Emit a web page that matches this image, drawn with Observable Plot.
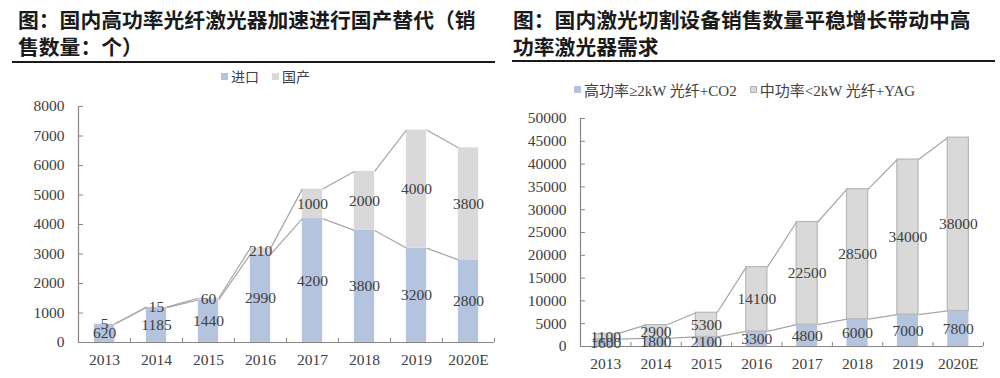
<!DOCTYPE html>
<html>
<head>
<meta charset="utf-8">
<script src="https://cdn.jsdelivr.net/npm/d3@7"></script>
<script src="https://cdn.jsdelivr.net/npm/@observablehq/plot@0.6"></script>
<style>
  html, body { margin: 0; padding: 0; background: #fff; }
  body { width: 1000px; height: 378px; position: relative; overflow: hidden;
         font-family: "Liberation Serif", "Noto Sans CJK SC", serif; color: #404040; }
  .title { position: absolute; font-family: "Noto Sans CJK SC", sans-serif; font-weight: bold;
           font-size: 20.8px; line-height: 27px; color: #1a1a1a; white-space: nowrap; }
  .rule { position: absolute; height: 2px; background: #1a1a1a; }
  .legend { position: absolute; white-space: nowrap; display: flex; align-items: center; }
  .sw { display: inline-block; width: 7px; height: 7px; margin-right: 3px; }
  .chart { position: absolute; }
  .chart svg, .chart svg text { font-family: "Liberation Serif", "Noto Sans CJK SC", serif !important; }
</style>
</head>
<body>
<div class="title" style="left:18px; top:6px;">图：国内高功率光纤激光器加速进行国产替代（销<br>售数量：个）</div>
<div class="rule" style="left:12px; top:61px; width:483px;"></div>
<div class="legend" id="legL" style="left:221px; top:66px; font-size:14px;"></div>

<div class="title" style="left:513px; top:6px;">图：国内激光切割设备销售数量平稳增长带动中高<br>功率激光器需求</div>
<div class="rule" style="left:512px; top:60px; width:483px;"></div>
<div class="legend" id="legR" style="left:574px; top:79px; font-size:15px;"></div>

<div class="chart" id="left" style="left:0px; top:90px;"></div>
<div class="chart" id="right" style="left:500px; top:100px;"></div>

<script>
// ---- data ----
const years = ["2013", "2014", "2015", "2016", "2017", "2018", "2019", "2020E"];
// left chart: 进口 (imported) and 国产 (domestic)
const importQty = [620, 1185, 1440, 2990, 4200, 3800, 3200, 2800];
const domesticQty = [5, 15, 60, 210, 1000, 2000, 4000, 3800];
const leftTicks = [0, 1000, 2000, 3000, 4000, 5000, 6000, 7000, 8000];
const leftSeries = ["进口", "国产"];
// right chart: 高功率 and 中功率
const highPower = [1600, 1800, 2100, 3300, 4800, 6000, 7000, 7800];
const midPower = [1100, 2900, 5300, 14100, 22500, 28500, 34000, 38000];
const rightTicks = [0, 5000, 10000, 15000, 20000, 25000, 30000, 35000, 40000, 45000, 50000];
const rightSeries = ["高功率≥2kW 光纤+CO2", "中功率<2kW 光纤+YAG"];

const BLUE = "#b4c4df";
const GRAY = "#d9d9d9";
const LINE = "#a6a6a6";
const AXIS = "#868686";
const TEXT = "#404040";
const FONT = "Liberation Serif, Noto Sans CJK SC, serif";

function legend(el, names, colors, strokes) {
  el.innerHTML = names.map((n, i) =>
    `<span class="sw" style="background:${colors[i]};${strokes[i] ? "outline:1px solid " + strokes[i] + ";outline-offset:-1px;" : ""}"></span>` +
    `<span style="margin-right:${i === 0 ? 13 : 0}px">${n.replace("<", "&lt;")}</span>`).join("");
}
legend(document.getElementById("legL"), leftSeries, [BLUE, GRAY], [null, null]);
legend(document.getElementById("legR"), rightSeries, [BLUE, GRAY], [null, "#b0b0b0"]);

function stackedChart({bottom, top, ticks, yMax, width, height, margins, hw, topStroke, fontSize}) {
  const idx = years.map((_, i) => i);
  const rows = idx.map(i => ({i, b: bottom[i], t: top[i], total: bottom[i] + top[i]}));
  const pairs = idx.slice(0, -1).map(i => ({i, a: rows[i], c: rows[i + 1]}));
  const boundaries = idx.map(i => i + 0.5);
  return Plot.plot({
    width, height,
    marginLeft: margins[0], marginRight: margins[1], marginTop: margins[2], marginBottom: margins[3],
    x: {type: "linear", domain: [-0.5, years.length - 0.5]},
    y: {type: "linear", domain: [0, yMax]},
    style: {fontFamily: FONT, fontSize: fontSize + "px", color: TEXT, background: "transparent", overflow: "visible"},
    marks: [
      // bars
      Plot.rectY(rows, {x1: d => d.i - hw, x2: d => d.i + hw, y1: 0, y2: d => d.b, fill: BLUE}),
      Plot.rectY(rows, {x1: d => d.i - hw, x2: d => d.i + hw, y1: d => d.b, y2: d => d.total, fill: GRAY,
        stroke: topStroke || "none", strokeWidth: 1.2}),
      // series lines
      Plot.link(pairs, {x1: d => d.i + hw, x2: d => d.i + 1 - hw, y1: d => d.a.b, y2: d => d.c.b, stroke: LINE, strokeWidth: 1.2}),
      Plot.link(pairs, {x1: d => d.i + hw, x2: d => d.i + 1 - hw, y1: d => d.a.total, y2: d => d.c.total, stroke: LINE, strokeWidth: 1.2}),
      // axis lines
      Plot.ruleY([0], {stroke: AXIS, strokeWidth: 1.2}),
      Plot.ruleX([-0.5], {stroke: AXIS, strokeWidth: 1.2}),
      // inward tick marks
      Plot.axisX({ticks: boundaries, tickSize: 4, dy: -4, tickFormat: () => "", stroke: AXIS, label: null}),
      Plot.axisY({ticks, tickSize: 5, dx: 5, tickFormat: () => "", stroke: AXIS, label: null}),
      // axis labels
      Plot.axisX({ticks: idx, tickSize: 0, tickPadding: 11, tickFormat: i => years[i], label: null, fill: TEXT, fontFamily: FONT}),
      Plot.axisY({ticks, tickSize: 0, tickPadding: 14, tickFormat: d => String(d), label: null, fill: TEXT, fontFamily: FONT}),
      // value labels
      Plot.text(rows, {x: "i", y: d => d.b / 2, text: d => String(d.b), fill: TEXT, fontSize, fontFamily: FONT}),
      Plot.text(rows, {x: "i", y: d => d.b + d.t / 2, text: d => String(d.t), fill: TEXT, fontSize, fontFamily: FONT})
    ]
  });
}

document.getElementById("left").append(stackedChart({
  bottom: importQty, top: domesticQty, ticks: leftTicks, yMax: 8000,
  width: 500, height: 288, margins: [78, 6, 16, 36], hw: 0.195, topStroke: null, fontSize: 15.5
}));
document.getElementById("right").append(stackedChart({
  bottom: highPower, top: midPower, ticks: rightTicks, yMax: 50000,
  width: 500, height: 278, margins: [80, 17, 18, 32], hw: 0.21, topStroke: "#b8b8b8", fontSize: 15.5
}));
</script>
</body>
</html>
